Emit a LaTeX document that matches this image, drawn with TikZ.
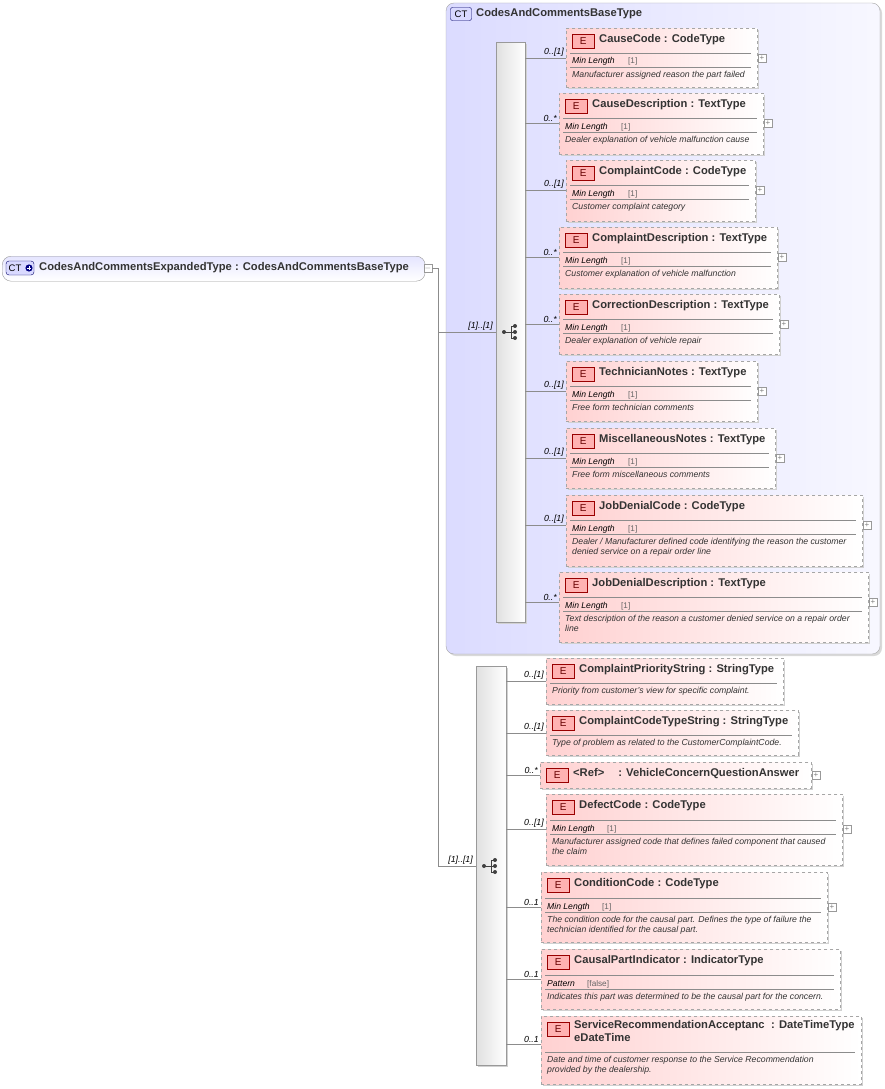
\documentclass[tikz,border=0pt]{standalone}
\usepackage{fontspec}
\setmainfont{Liberation Sans}
\begin{document}
\begin{tikzpicture}[x=1pt,y=-1pt,
  elbox/.style={draw=black!35,dashed,left color=red!18,right color=white,shading angle=90,inner sep=0pt,line width=0.7pt},
  ebadge/.style={draw=red!60!black,fill=red!30,font=\fontsize{10}{10}\selectfont,text=red!40!black,minimum width=22pt,minimum height=14pt,inner sep=0pt},
  ttl/.style={anchor=west,inner sep=0pt,font=\fontsize{11.2}{12.5}\selectfont\bfseries,text=black!80},
  fac/.style={anchor=base west,inner sep=0pt,font=\fontsize{8.6}{9}\selectfont\itshape},
  facv/.style={anchor=base west,inner sep=0pt,font=\fontsize{8.2}{9}\selectfont,text=black!60},
  dsc/.style={anchor=north west,inner sep=0pt,align=left,font=\fontsize{8.7}{10.2}\selectfont\itshape,text=black!80},
  card/.style={anchor=south east,inner sep=1pt,font=\fontsize{8.8}{9}\selectfont\itshape},
  conn/.style={draw=black!45,line width=0.6pt},
  pm/.style={draw=black!40,fill=white,minimum size=8pt,inner sep=0pt,font=\fontsize{8}{8}\selectfont,text=black!50},
  seqbar/.style={draw=black!40,left color=black!12,right color=white,shading angle=90,inner sep=0pt,anchor=north west}]
\useasboundingbox (0,0) rectangle (885,1089);
\newcommand\ebox[6]{%
  \pgfmathsetmacro\ew{#4-#2}\pgfmathsetmacro\eh{#5-#3}%
  \fill[black!18] (#2+2,#3+2) rectangle (#4+2,#5+2);
  \node[elbox,anchor=north west,minimum width=\ew pt,minimum height=\eh pt] (#1) at (#2,#3) {};
  \node[ebadge,anchor=north west] at (#2+6,#3+6) {E};
  \node[ttl] at (#2+33,#3+12) {#6};}
\newcommand\sepl[3]{\draw[black!45,line width=0.5pt] (#1+4,#3) -- (#2-6,#3);}
% group
\fill[black!15,rounded corners=8pt] (448,5) rectangle (882,656);
\draw[black!35,rounded corners=8pt,left color=blue!14,right color=blue!3,shading angle=90] (446,3) rectangle (880,654);
\node[draw=blue!40!black,fill=blue!15,rounded corners=2pt,font=\fontsize{9.5}{9.5}\selectfont,minimum width=21pt,minimum height=13pt,inner sep=0pt] (ctg) at (461,14) {CT};
\node[anchor=west,inner sep=0pt,font=\fontsize{11.2}{12.5}\selectfont\bfseries,text=black!80] at (476,14) {CodesAndCommentsBaseType};
% main node
\node[draw=black!40,rounded corners=9pt,top color=blue!10,bottom color=white,minimum width=423pt,minimum height=25pt,anchor=north west,inner sep=0pt] (main) at (2,256) {};
\node[draw=blue!40!black,fill=blue!15,rounded corners=3pt,font=\fontsize{9.5}{9.5}\selectfont,minimum width=28pt,minimum height=14pt,inner sep=0pt,align=left] (ctm) at (20,268) {CT\hspace{10pt}};
\fill[blue!50!black] (29,268) circle (3.6pt);
\draw[white,line width=0.9pt] (26.8,268)--(31.2,268) (29,265.8)--(29,270.2);
\node[anchor=west,inner sep=0pt,font=\fontsize{11.2}{12.5}\selectfont\bfseries,text=black!80] at (39,268) {CodesAndCommentsExpandedType : CodesAndCommentsBaseType};
\node[pm] (mpm) at (428,268) {$-$};
\coordinate (j1) at (438,268);
\coordinate (j2) at (438,332);
\coordinate (j3) at (438,866);
% sequence bars
\fill[black!18] (498,44) rectangle (527,624);
\node[seqbar,minimum width=29pt,minimum height=580pt] (s1) at (496,42) {};
\fill[black!18] (478,668) rectangle (508,1067);
\node[seqbar,minimum width=30pt,minimum height=399pt] (s2) at (476,666) {};
\draw[conn] (mpm.east) -- (j1) -- (j3) -- (s2.west|-j3);
\draw[conn] (j2) -- (s1.west|-j2);
\node[card] at (494,332) {[1]..[1]};
\node[card] at (474,866) {[1]..[1]};
\newcommand\seqicon[2]{%
  \fill[black!75] (#1-7,#2) circle (2pt) (#1+4,#2-6) circle (2pt) (#1+4,#2) circle (2pt) (#1+4,#2+6) circle (2pt);
  \draw[black!75,line width=0.7pt] (#1-7,#2)--(#1,#2) (#1,#2-6)--(#1,#2+6) (#1,#2-6)--(#1+4,#2-6) (#1,#2+6)--(#1+4,#2+6) (#1,#2)--(#1+4,#2);}
\seqicon{511}{332}
\seqicon{491}{866}
% ---- top elements
\newcommand\fel[9]{%
  \ebox{#1}{#2}{#3}{#4}{#5}{#6}
  \sepl{#2}{#4}{#3+25}\sepl{#2}{#4}{#3+39}
  \node[fac] at (#2+6,#3+36) {Min Length};
  \node[facv] at (#2+62,#3+36) {#8};
  \node[dsc] at (#2+6,#3+43) {#9};
  \node[pm] at (#4+5,#3+30) {+};
  \coordinate (c#1) at (0,#3+30);
  \draw[conn] (s1.east|-c#1) -- (#1.west|-c#1);
  \node[card] at (#2-1,#3+30) {#7};}
\fel{e1}{566}{28}{757}{87}{CauseCode : CodeType}{0..[1]}{[1]}{Manufacturer assigned reason the part failed}
\fel{e2}{559}{93}{763}{154}{CauseDescription : TextType}{0..*}{[1]}{Dealer explanation of vehicle malfunction cause}
\fel{e3}{566}{160}{755}{221}{ComplaintCode : CodeType}{0..[1]}{[1]}{Customer complaint category}
\fel{e4}{559}{227}{777}{288}{ComplaintDescription : TextType}{0..*}{[1]}{Customer explanation of vehicle malfunction}
\fel{e5}{559}{294}{779}{354}{CorrectionDescription : TextType}{0..*}{[1]}{Dealer explanation of vehicle repair}
\fel{e6}{566}{361}{757}{421}{TechnicianNotes : TextType}{0..[1]}{[1]}{Free form technician comments}
\fel{e7}{566}{428}{775}{488}{MiscellaneousNotes : TextType}{0..[1]}{[1]}{Free form miscellaneous comments}
\fel{e8}{566}{495}{862}{566}{JobDenialCode : CodeType}{0..[1]}{[1]}{Dealer / Manufacturer defined code identifying the reason the customer\\denied service on a repair order line}
\fel{e9}{559}{572}{868}{642}{JobDenialDescription : TextType}{0..*}{[1]}{Text description of the reason a customer denied service on a repair order\\line}
% ---- bottom elements
\newcommand\bconn[4]{\coordinate (c#1) at (0,#2); \draw[conn] (s2.east|-c#1) -- (#1.west|-c#1); \node[card] at (#3-1,#2) {#4};}
\ebox{b1}{546}{658}{783}{704}{ComplaintPriorityString : StringType}
\sepl{546}{783}{683}\node[dsc] at (552,687) {Priority from customer's view for specific complaint.};
\bconn{b1}{681}{546}{0..[1]}
\ebox{b2}{546}{710}{798}{755}{ComplaintCodeTypeString : StringType}
\sepl{546}{798}{735}\node[dsc] at (552,739) {Type of problem as related to the CustomerComplaintCode.};
\bconn{b2}{733}{546}{0..[1]}
\ebox{b3}{540}{762}{811}{788}{<Ref>\hspace{14pt}: VehicleConcernQuestionAnswer}
\node[pm] at (816,775) {+};
\bconn{b3}{775}{540}{0..*}
\ebox{b4}{546}{794}{842}{865}{DefectCode : CodeType}
\sepl{546}{842}{820}\sepl{546}{842}{834}
\node[fac] at (552,831) {Min Length};\node[facv] at (607,831) {[1]};
\node[dsc] at (552,838) {Manufacturer assigned code that defines failed component that caused\\the claim};
\node[pm] at (847,829) {+};
\bconn{b4}{829}{546}{0..[1]}
\ebox{b5}{541}{872}{827}{942}{ConditionCode : CodeType}
\sepl{541}{827}{898}\sepl{541}{827}{912}
\node[fac] at (547,909) {Min Length};\node[facv] at (602,909) {[1]};
\node[dsc] at (547,916) {The condition code for the causal part. Defines the type of failure the\\technician identified for the causal part.};
\node[pm] at (832,907) {+};
\bconn{b5}{907}{541}{0..1}
\ebox{b6}{541}{949}{840}{1009}{CausalPartIndicator : IndicatorType}
\sepl{541}{840}{975}\sepl{541}{840}{989}
\node[fac] at (547,986) {Pattern};\node[facv] at (587,986) {[false]};
\node[dsc] at (547,993) {Indicates this part was determined to be the causal part for the concern.};
\bconn{b6}{979}{541}{0..1}
\ebox{b7}{541}{1016}{861}{1084}{}
\node[anchor=north west,inner sep=0pt,align=left,font=\fontsize{11.2}{13}\selectfont\bfseries,text=black!80] at (574,1020) {ServiceRecommendationAcceptanc\\eDateTime};
\node[anchor=north west,inner sep=0pt,font=\fontsize{11.2}{13}\selectfont\bfseries,text=black!80] at (771,1020) {: DateTimeType};
\node[dsc] at (547,1056) {Date and time of customer response to the Service Recommendation\\provided by the dealership.};
\sepl{541}{861}{1052}
\bconn{b7}{1044}{541}{0..1}
\end{tikzpicture}
\end{document}
